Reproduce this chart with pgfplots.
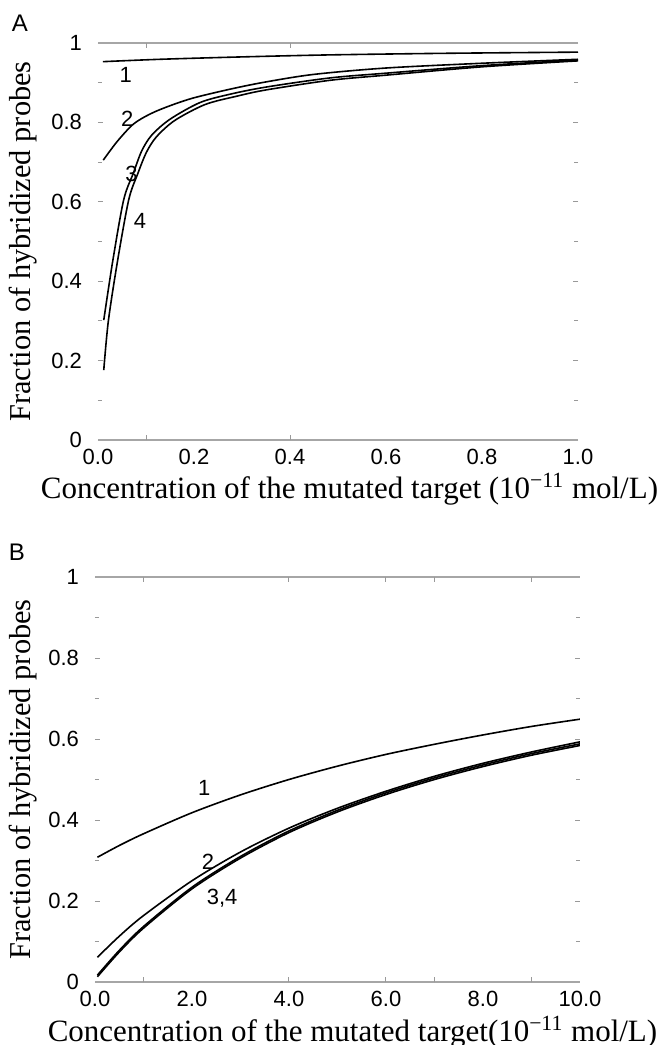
\documentclass[border=0pt]{standalone}
\usepackage{fontspec}
\setmainfont{Liberation Serif}
\setsansfont{Liberation Sans}
\usepackage{pgfplots}
\pgfplotsset{compat=1.18}

\newcommand{\tickfont}{\sffamily\fontsize{11}{13}\selectfont}

\pgfplotsset{
  panel/.style={
    scale only axis,
    anchor=north west,
    separate axis lines,
    x axis line style={draw=gray!70, line width=0.7pt},
    y axis line style={draw=none},
    tick align=inside,
    tick style={gray!80, line width=0.5pt},
    major tick length=2.5pt,
    minor tick length=2pt,
    xtick style={draw=none},
    extra x tick style={xtick style={draw=gray!80, line width=0.5pt}},
    extra x tick labels={},
    ymin=0, ymax=1,
    ytick={0,0.2,0.4,0.6,0.8,1},
    minor ytick={0.1,0.3,0.5,0.7,0.9},
    /pgf/number format/assume math mode=true,
    yticklabel style={font=\tickfont, xshift=-4.5pt},
    xticklabel style={font=\tickfont, yshift=-1.2pt,
      /pgf/number format/.cd, fixed, fixed zerofill, precision=1},
    ylabel={Fraction of hybridized probes},
    every axis y label/.style={rotate=90, anchor=center,
      font=\fontsize{15.2}{18}\selectfont},
    every axis x label/.style={at={(axis description cs:0.5,0)}, anchor=center,
      font=\fontsize{15.5}{18}\selectfont},
    cycle list={{black, no markers}},
    every axis plot/.append style={line width=0.8pt, smooth},
  }
}

\begin{document}
\begin{tikzpicture}
\useasboundingbox (-49pt,21.5pt) rectangle (282pt,-501pt);

% panel A
\begin{axis}[panel, at={(0pt,0pt)}, width=240pt, height=198.5pt,
    xmin=0, xmax=1,
    xtick={0,0.2,0.4,0.6,0.8,1},
    extra x ticks={0.1,0.4},
    xlabel={Concentration of the mutated target (10\textsuperscript{−11} mol/L)},
    xlabel style={xshift=5.75pt, yshift=-24.5pt},
    ylabel style={at={(axis description cs:-0.1552,0.5)}}]
\addplot coordinates {(0.01,0.953) (0.13,0.959) (0.3,0.965) (0.48,0.970) (0.72,0.974) (1.0,0.977)};
\addplot coordinates {(0.011,0.705) (0.04,0.752) (0.074,0.796) (0.11,0.822) (0.15,0.842)
  (0.2,0.862) (0.28,0.885) (0.35,0.902) (0.45,0.921) (0.6,0.937) (0.8,0.949) (1.0,0.959)};
\addplot coordinates {(0.012,0.302) (0.031,0.453) (0.0535,0.605) (0.0736,0.672) (0.091,0.728)
  (0.112,0.768) (0.15,0.808) (0.2125,0.850) (0.275,0.871) (0.35,0.889) (0.483,0.912)
  (0.6,0.924) (0.8,0.943) (1.0,0.957)};
\addplot coordinates {(0.012,0.176) (0.0216,0.30) (0.041,0.453) (0.064,0.605) (0.0826,0.670)
  (0.101,0.725) (0.122,0.764) (0.16,0.805) (0.223,0.845) (0.289,0.866) (0.351,0.882)
  (0.483,0.906) (0.6,0.919) (0.8,0.940) (1.0,0.955)};
\node[font=\tickfont] at (axis cs:0.058,0.919) {1};
\node[font=\tickfont] at (axis cs:0.061,0.808) {2};
\node[font=\tickfont] at (axis cs:0.070,0.670) {3};
\node[font=\tickfont] at (axis cs:0.0875,0.552) {4};
\end{axis}
\node[font=\sffamily\fontsize{12}{14}\selectfont] at (-39pt,10pt) {A};

% panel B
\begin{axis}[panel, at={(-1.5pt,-267pt)}, width=242.5pt, height=202.5pt,
    xmin=0, xmax=10,
    xtick={0,2,4,6,8,10},
    extra x ticks={1,4,6,7,9},
    xlabel={Concentration of the mutated target(10\textsuperscript{−11} mol/L)},
    xlabel style={xshift=7.5pt, yshift=-25pt},
    ylabel style={at={(axis description cs:-0.1474,0.5)}}]
\addplot coordinates {(0.05,0.308) (0.5,0.337) (1,0.366) (2,0.418) (3,0.462) (4,0.500)
  (5,0.533) (6,0.562) (7,0.587) (8,0.610) (9,0.631) (10,0.649)};
\addplot coordinates {(0.05,0.061) (0.5,0.113) (1,0.164) (2,0.250) (3,0.321) (4,0.380)
  (5,0.429) (6,0.471) (7,0.508) (8,0.540) (9,0.568) (10,0.593)};
\addplot coordinates {(0.05,0.017) (0.5,0.078) (1,0.137) (2,0.234) (3,0.310) (4,0.373)
  (5,0.424) (6,0.467) (7,0.504) (8,0.536) (9,0.564) (10,0.588)};
\addplot coordinates {(0.05,0.013) (0.5,0.074) (1,0.133) (2,0.230) (3,0.306) (4,0.369)
  (5,0.420) (6,0.463) (7,0.500) (8,0.532) (9,0.560) (10,0.584)};
\node[font=\tickfont] at (axis cs:2.25,0.479) {1};
\node[font=\tickfont] at (axis cs:2.33,0.296) {2};
\node[font=\tickfont] at (axis cs:2.62,0.207) {3,4};
\end{axis}
\node[font=\sffamily\fontsize{12}{14}\selectfont] at (-40.5pt,-254.5pt) {B};
\end{tikzpicture}
\end{document}
